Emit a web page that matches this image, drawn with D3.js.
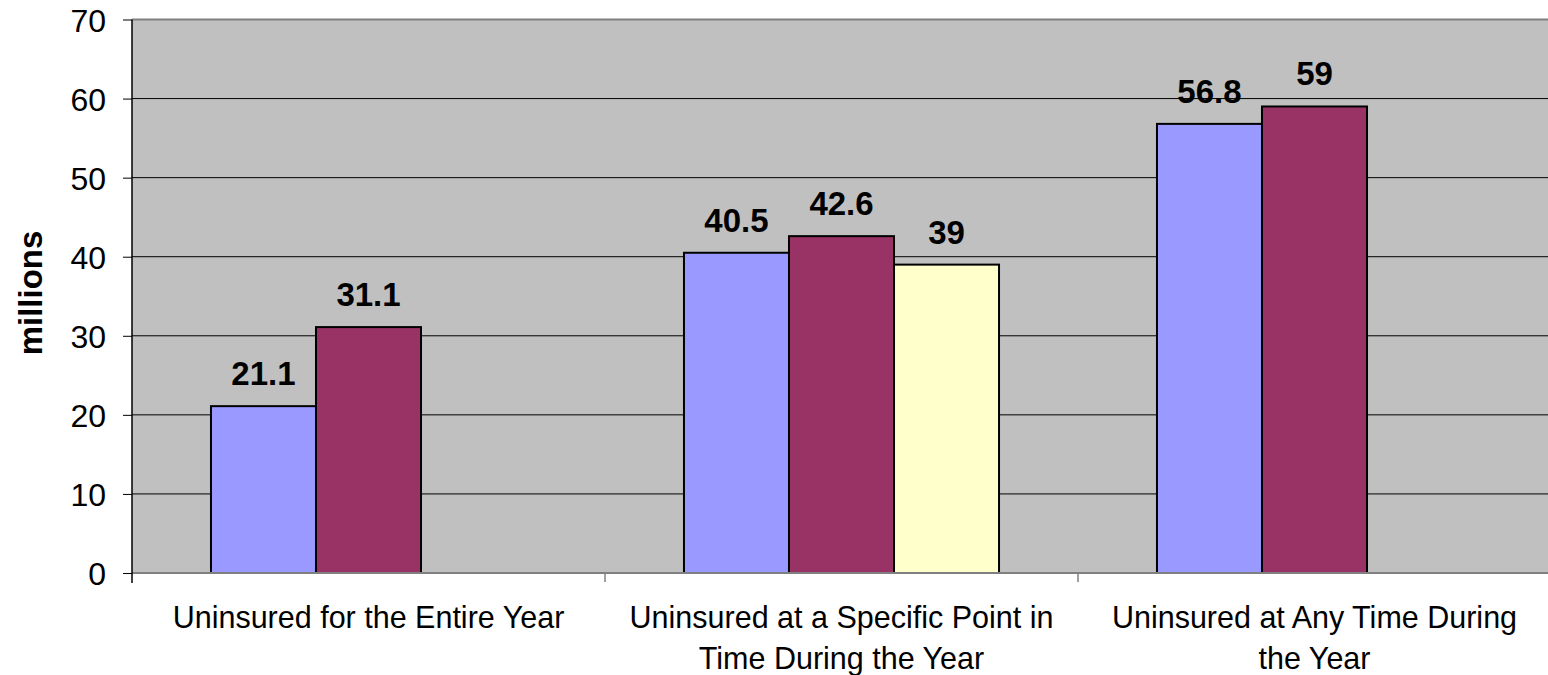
<!DOCTYPE html>
<html>
<head>
<meta charset="utf-8">
<script src="https://d3js.org/d3.v7.min.js"></script>
<style>
  body { margin: 0; background: #fff; }
  text { font-family: "Liberation Sans", Arial, sans-serif; }
</style>
</head>
<body>
<script>
var categories = ["Uninsured for the Entire Year",
                  "Uninsured at a Specific Point in Time During the Year",
                  "Uninsured at Any Time During the Year"];
var categoryLines = [["Uninsured for the Entire Year"],
                     ["Uninsured at a Specific Point in", "Time During the Year"],
                     ["Uninsured at Any Time During", "the Year"]];
var seriesNames = ["Series 1", "Series 2", "Series 3"];
var series1 = [21.1, 40.5, 56.8];
var series2 = [31.1, 42.6, 59];
var series3 = [null, 39, null];
var seriesColors = ["#9999ff", "#993366", "#ffffcc"];
var yTicks = [0, 10, 20, 30, 40, 50, 60, 70];

var width = 1548, height = 675;
var margin = {left: 132, top: 19.5, right: -3, bottom: 102};
var plotW = width - margin.left - margin.right;
var plotH = height - margin.top - margin.bottom;

var svg = d3.select("body").append("svg")
    .attr("width", width)
    .attr("height", height);

var g = svg.append("g").attr("transform", "translate(" + margin.left + "," + margin.top + ")");

var x0 = d3.scaleBand().domain(categories).range([0, plotW]).paddingInner(0).paddingOuter(0);
var x1 = d3.scaleBand().domain(seriesNames).range([0, x0.bandwidth()]).paddingOuter(0.752);
var y = d3.scaleLinear().domain([0, 70]).range([plotH, 0]);

// plot background
g.append("rect")
    .attr("x", 0).attr("y", 0)
    .attr("width", plotW).attr("height", plotH)
    .style("fill", "#c0c0c0");

// gridlines
g.selectAll("line.grid")
    .data(yTicks.filter(function(d) { return d > 0 && d < 70; }))
    .enter().append("line")
    .attr("class", "grid")
    .attr("x1", 0).attr("x2", plotW)
    .attr("y1", function(d) { return y(d); })
    .attr("y2", function(d) { return y(d); })
    .style("stroke", "#000")
    .style("stroke-width", 1);

// top border
g.append("line")
    .attr("x1", 0).attr("x2", plotW)
    .attr("y1", 0).attr("y2", 0)
    .style("stroke", "#808080").style("stroke-width", 2);

var data = [];
categories.forEach(function(c, i) {
    [series1, series2, series3].forEach(function(s, j) {
        if (s[i] != null) data.push({cat: c, series: seriesNames[j], value: s[i], color: seriesColors[j]});
    });
});

g.selectAll("rect.bar")
    .data(data)
    .enter().append("rect")
    .attr("class", "bar")
    .attr("x", function(d) { return x0(d.cat) + x1(d.series); })
    .attr("y", function(d) { return y(d.value); })
    .attr("width", x1.bandwidth())
    .attr("height", function(d) { return plotH - y(d.value); })
    .style("fill", function(d) { return d.color; })
    .style("stroke", "#000")
    .style("stroke-width", 2);

g.selectAll("text.val")
    .data(data)
    .enter().append("text")
    .attr("class", "val")
    .attr("x", function(d) { return x0(d.cat) + x1(d.series) + x1.bandwidth() / 2; })
    .attr("y", function(d) { return y(d.value) - 21; })
    .attr("text-anchor", "middle")
    .style("font-size", "33px")
    .style("font-weight", "bold")
    .text(function(d) { return d.value; });

// bottom axis line
g.append("line")
    .attr("x1", 0).attr("x2", plotW)
    .attr("y1", plotH).attr("y2", plotH)
    .style("stroke", "#808080").style("stroke-width", 2);

// x ticks at category boundaries
g.selectAll("line.xtick")
    .data(categories.slice(1))
    .enter().append("line")
    .attr("class", "xtick")
    .attr("x1", function(d) { return x0(d); })
    .attr("x2", function(d) { return x0(d); })
    .attr("y1", plotH).attr("y2", plotH + 9)
    .style("stroke", "#808080").style("stroke-width", 1.5);

// y axis
var yAxis = g.append("g")
    .call(d3.axisLeft(y).tickValues(yTicks).tickSize(9).tickPadding(17));
yAxis.select(".domain").style("stroke", "#000").style("stroke-width", 1.5)
    .attr("d", "M0," + (plotH + 10) + "V0");
yAxis.selectAll(".tick line").style("stroke", "#000");
yAxis.selectAll(".tick text")
    .style("font-size", "32px")
    .style("font-family", "'Liberation Sans', Arial, sans-serif")
    .attr("dy", "0.36em")
    .style("fill", "#000");

// category labels
categories.forEach(function(c, i) {
    var t = g.append("text")
        .attr("x", x0(c) + x0.bandwidth() / 2)
        .attr("y", plotH + 55)
        .attr("text-anchor", "middle")
        .style("font-size", "30.5px");
    categoryLines[i].forEach(function(line, k) {
        t.append("tspan")
            .attr("x", x0(c) + x0.bandwidth() / 2)
            .attr("dy", k === 0 ? 0 : 41)
            .text(line);
    });
});

// y axis title
svg.append("text")
    .attr("transform", "translate(42,293) rotate(-90)")
    .attr("text-anchor", "middle")
    .style("font-size", "33px")
    .style("font-weight", "bold")
    .text("millions");
</script>
</body>
</html>
